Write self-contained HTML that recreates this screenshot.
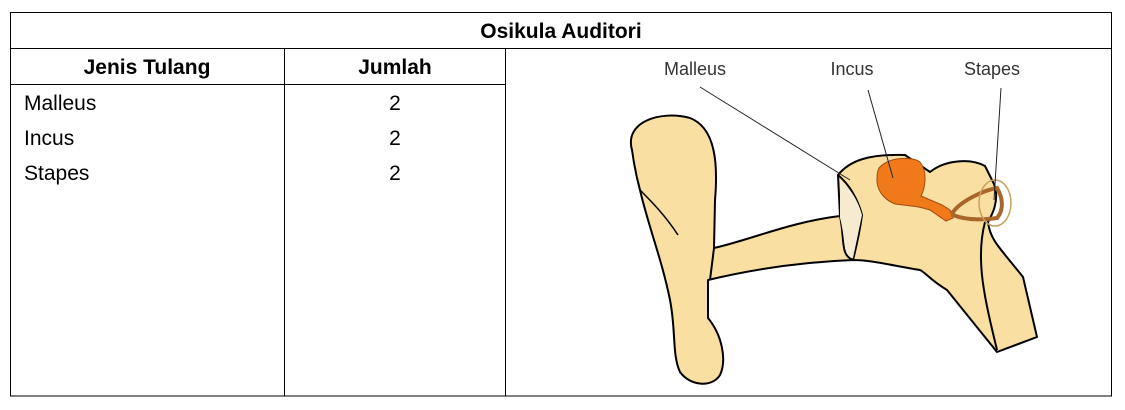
<!DOCTYPE html>
<html><head><meta charset="utf-8"><style>
html,body{margin:0;padding:0;background:#fff;width:1125px;height:410px;overflow:hidden}
svg{display:block}
.t{font-family:"Liberation Sans",sans-serif;font-size:21px;fill:#000}
.b{font-weight:bold}
.l{font-family:"Liberation Sans",sans-serif;font-size:18px;fill:#333}
</style></head><body>
<svg width="1125" height="410" viewBox="0 0 1125 410" xmlns="http://www.w3.org/2000/svg">
<g stroke="#000" stroke-width="1" fill="none">
<rect x="10.5" y="12.5" width="1101" height="383.5"/>
<line x1="10" y1="48.5" x2="1112" y2="48.5"/>
<line x1="10" y1="84.5" x2="505" y2="84.5"/>
<line x1="284.5" y1="48" x2="284.5" y2="396"/>
<line x1="505.5" y1="48" x2="505.5" y2="396"/>
</g>
<text class="t b" x="561" y="38" text-anchor="middle">Osikula Auditori</text>
<text class="t b" x="147" y="74" text-anchor="middle">Jenis Tulang</text>
<text class="t b" x="395" y="74" text-anchor="middle">Jumlah</text>
<text class="t" x="24" y="110">Malleus</text>
<text class="t" x="24" y="145">Incus</text>
<text class="t" x="24" y="180">Stapes</text>
<text class="t" x="395" y="110" text-anchor="middle">2</text>
<text class="t" x="395" y="145" text-anchor="middle">2</text>
<text class="t" x="395" y="180" text-anchor="middle">2</text>

<g stroke="#000" stroke-width="2" stroke-linejoin="round" fill="#f9dfa2">
<path d="M632,150 C624,122 660,110 690,118 C716,128 718,165 715,200 L714,248 C750,240 790,222 840,216 L838,175 C850,160 870,154 905,155 L930,172 C945,160 970,158 985,166 L994,184 C1000,200 992,215 988,222 C990,240 1000,248 1023,277 L1037,337 L997,352 L947,290 C930,280 925,272 920,270 C890,265 870,260 853,260 C800,262 750,270 708,280 L708,318 C722,335 727,360 720,375 C712,388 690,386 680,372 C672,355 676,330 670,300 C662,260 648,225 640,190 C636,175 634,165 632,150 Z"/>
<path d="M840,216 C845,240 840,255 853,260" fill="#f6ead0"/>
<path d="M838,175 C850,185 858,200 862,215 C860,230 856,248 853,260" fill="none"/>
<path d="M714,248 L710,280" fill="none"/>
<path d="M985,222 C975,260 985,300 997,350" fill="none"/>
<path d="M640,190 C650,200 665,215 678,235" fill="none" stroke-width="1.5"/>
</g>
<path d="M840,218 C846,240 842,255 853,258 L862,215 C858,200 850,188 840,180 Z" fill="#f6ead0"/>
<path d="M879,168 C888,157 912,156 920,162 C928,172 925,188 921,196 L942,205 L950,210 L953,218 L946,221 L930,210 C918,206 910,206 895,204 C885,200 878,192 877,182 C877,176 877,172 879,168 Z" fill="#f07a1a" stroke="#a04a10" stroke-width="1"/>
<path d="M953,212 C962,200 985,190 997,188 C1003,198 1004,210 997,218 C982,220 965,220 953,215 Z" fill="none" stroke="#a8662a" stroke-width="4"/>
<ellipse cx="995" cy="203" rx="16" ry="23" fill="none" stroke="#c8a060" stroke-width="1.5"/>
<text class="l" x="695" y="75" text-anchor="middle">Malleus</text>
<text class="l" x="852" y="75" text-anchor="middle">Incus</text>
<text class="l" x="992" y="75" text-anchor="middle">Stapes</text>
<g stroke="#222" stroke-width="1">
<line x1="700" y1="87" x2="850" y2="180"/>
<line x1="868" y1="90" x2="893" y2="178"/>
<line x1="1001" y1="88" x2="994" y2="200"/>
</g>
</svg>
</body></html>
